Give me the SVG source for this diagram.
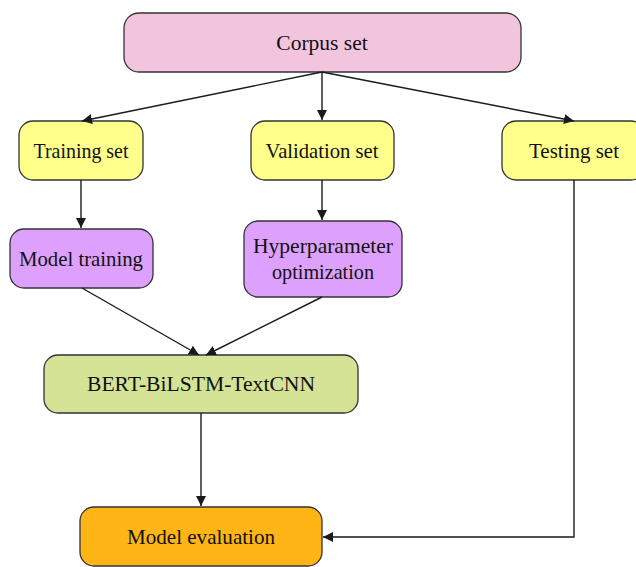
<svg xmlns="http://www.w3.org/2000/svg" width="636" height="567" viewBox="0 0 636 567">
<defs>
<marker id="ah" viewBox="0 0 10 10" refX="10" refY="5" markerWidth="10" markerHeight="10" markerUnits="userSpaceOnUse" orient="auto">
<path d="M0,0 L10,5 L0,10 z" fill="#1a1a1a"/>
</marker>
<style>
.box{stroke:#333;stroke-width:1.3}
.t{font-family:"Liberation Serif","Times New Roman",serif;font-size:21.5px;fill:#111;text-anchor:middle;dominant-baseline:central}
.c{fill:none;stroke:#1a1a1a;stroke-width:1.4;marker-end:url(#ah)}
</style>
</defs>
<rect width="636" height="567" fill="#fff"/>
<g id="corpus"><rect class="box" x="124" y="13" width="397" height="59" rx="15" fill="#F2C4DE"/><text class="t" x="322" y="43">Corpus set</text></g>
<g id="training"><rect class="box" x="19" y="121" width="124" height="59" rx="14" fill="#FFFF8C"/><text class="t" x="81" y="151" textLength="95" lengthAdjust="spacingAndGlyphs">Training set</text></g>
<g id="validation"><rect class="box" x="251" y="121" width="143" height="59" rx="14" fill="#FFFF8C"/><text class="t" x="322" y="151" textLength="113" lengthAdjust="spacingAndGlyphs">Validation set</text></g>
<g id="testing"><rect class="box" x="502" y="121" width="143" height="59" rx="14" fill="#FFFF8C"/><text class="t" x="574" y="151" textLength="90" lengthAdjust="spacingAndGlyphs">Testing set</text></g>
<g id="modeltraining"><rect class="box" x="10" y="229" width="143" height="59" rx="14" fill="#DDA0FC"/><text class="t" x="81" y="259" textLength="124" lengthAdjust="spacingAndGlyphs">Model training</text></g>
<g id="hyper"><rect class="box" x="244" y="221" width="158" height="76" rx="14" fill="#DDA0FC"/><text class="t" x="323" y="246" textLength="140" lengthAdjust="spacingAndGlyphs">Hyperparameter</text><text class="t" x="323" y="272" textLength="102" lengthAdjust="spacingAndGlyphs">optimization</text></g>
<g id="bert"><rect class="box" x="44" y="355" width="314" height="58" rx="14" fill="#D4E396"/><text class="t" x="201" y="384" textLength="228" lengthAdjust="spacingAndGlyphs">BERT-BiLSTM-TextCNN</text></g>
<g id="evaluation"><rect class="box" x="80" y="507" width="242" height="59" rx="14" fill="#FFB515"/><text class="t" x="201" y="537" textLength="148" lengthAdjust="spacingAndGlyphs">Model evaluation</text></g>
<g id="connectors">
<path class="c" d="M322,72 L82,121"/>
<path class="c" d="M322,72 L322,120"/>
<path class="c" d="M322,72 L574,121"/>
<path class="c" d="M81,180 L81,228"/>
<path class="c" d="M322,180 L322,220"/>
<path class="c" d="M82,288 L199,355"/>
<path class="c" d="M322,297 L206,355"/>
<path class="c" d="M201,413 L201,506"/>
<path class="c" d="M574,180 L574,537 L323,537"/>
</g>
</svg>
